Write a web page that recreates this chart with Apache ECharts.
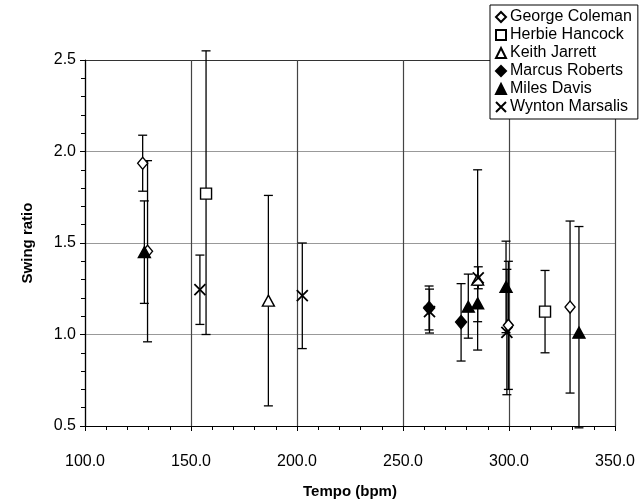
<!DOCTYPE html>
<html><head><meta charset="utf-8">
<script src="https://cdn.jsdelivr.net/npm/echarts@6/dist/echarts.min.js"></script>
<style>html,body{margin:0;padding:0;background:#fff}#c{width:644px;height:504px}</style>
</head><body><div id="c"></div>
<script>
// Data: tempo (bpm), swing ratio, error low, error high
const players = ["George Coleman","Herbie Hancock","Keith Jarrett","Marcus Roberts","Miles Davis","Wynton Marsalis"];

const colemanTempo = [127.2, 129.5, 299.7, 328.8];
const colemanRatio = [1.936, 1.455, 1.05, 1.15];
const colemanLow   = [1.783, 0.96, 0.70, 0.68];
const colemanHigh  = [2.089, 1.95, 1.40, 1.62];

const hancockTempo = [157.1, 317.0];
const hancockRatio = [1.77, 1.125];
const hancockLow   = [1.00, 0.90];
const hancockHigh  = [2.55, 1.35];

const jarrettTempo = [186.5, 285.2];
const jarrettRatio = [1.185, 1.30];
const jarrettLow   = [0.61, 0.915];
const jarrettHigh  = [1.76, 1.90];

const robertsTempo = [262.3, 277.4];
const robertsRatio = [1.145, 1.068];
const robertsLow   = [1.025, 0.855];
const robertsHigh  = [1.265, 1.278];

const davisTempo = [128.0, 280.8, 285.2, 298.6, 333.0];
const davisRatio = [1.45, 1.152, 1.17, 1.26, 1.01];
const davisLow   = [1.17, 0.98, 1.07, 1.01, 0.49];
const davisHigh  = [1.73, 1.33, 1.27, 1.51, 1.59];

const marsalisTempo = [154.2, 202.5, 262.5, 285.5, 299.0];
const marsalisRatio = [1.245, 1.212, 1.125, 1.31, 1.012];
const marsalisLow   = [1.055, 0.923, 1.008, 1.25, 0.671];
const marsalisHigh  = [1.434, 1.50, 1.248, 1.37, 1.356];

const xTicks = [100, 150, 200, 250, 300, 350];
const yTicks = [0.5, 1.0, 1.5, 2.0, 2.5];

const FONT = "'Liberation Sans', Arial, sans-serif";
const XPATH = 'path://M0,0L10,10M10,0L0,10';

const sets = [
  {name: players[0], t: colemanTempo, r: colemanRatio, lo: colemanLow, hi: colemanHigh, symbol: 'diamond', size: [10,12], fill: '#fff'},
  {name: players[1], t: hancockTempo, r: hancockRatio, lo: hancockLow, hi: hancockHigh, symbol: 'rect', size: 11, fill: '#fff'},
  {name: players[2], t: jarrettTempo, r: jarrettRatio, lo: jarrettLow, hi: jarrettHigh, symbol: 'triangle', size: [12,11], fill: '#fff'},
  {name: players[3], t: robertsTempo, r: robertsRatio, lo: robertsLow, hi: robertsHigh, symbol: 'diamond', size: [11,13], fill: '#000'},
  {name: players[4], t: davisTempo, r: davisRatio, lo: davisLow, hi: davisHigh, symbol: 'triangle', size: [12,11], fill: '#000'},
  {name: players[5], t: marsalisTempo, r: marsalisRatio, lo: marsalisLow, hi: marsalisHigh, symbol: XPATH, size: 11, fill: '#000'}
];

const series = [];
// error bars
const errData = [];
sets.forEach(s => s.t.forEach((t, i) => errData.push([t, s.lo[i], s.hi[i]])));
series.push({
  type: 'custom', name: 'err', clip: false, z: 1, silent: true,
  data: errData,
  encode: {x: 0, y: [1, 2]},
  renderItem: function (params, api) {
    const x = api.value(0);
    const a = api.coord([x, api.value(1)]);
    const b = api.coord([x, api.value(2)]);
    const w = 4.5;
    const st = {stroke: '#000', lineWidth: 1.3, fill: null};
    return {type: 'group', children: [
      {type: 'line', shape: {x1: a[0], y1: a[1], x2: b[0], y2: b[1]}, style: st},
      {type: 'line', shape: {x1: a[0]-w, y1: a[1], x2: a[0]+w, y2: a[1]}, style: st},
      {type: 'line', shape: {x1: b[0]-w, y1: b[1], x2: b[0]+w, y2: b[1]}, style: st}
    ]};
  }
});
sets.forEach(s => {
  series.push({
    type: 'scatter', name: s.name, symbol: s.symbol, symbolSize: s.size, z: 3,
    data: s.t.map((t, i) => [t, s.r[i]]),
    itemStyle: {color: s.fill, borderColor: '#000', borderWidth: s.symbol === XPATH ? 1.8 : 1.4, opacity: 1}
  });
});

const chart = echarts.init(document.getElementById('c'), null, {renderer: 'canvas'});
chart.setOption({
  animation: false,
  backgroundColor: '#fff',
  textStyle: {fontFamily: FONT},
  grid: {left: 85, right: 29, top: 60, bottom: 74, containLabel: false},
  legend: {
    orient: 'vertical', left: 490, top: 5, data: players,
    backgroundColor: '#fff', borderColor: '#000', borderWidth: 1,
    padding: [4, 6, 4, 5], itemGap: 2, itemWidth: 10, itemHeight: 10,
    textStyle: {fontFamily: FONT, fontSize: 16, color: '#000', lineHeight: 16, padding: [0, 0, 0, -1]}
  },
  xAxis: {
    type: 'value', min: xTicks[0], max: xTicks[xTicks.length-1], interval: 50,
    name: 'Tempo (bpm)', nameLocation: 'middle', nameGap: 58,
    nameTextStyle: {fontFamily: FONT, fontSize: 15, fontWeight: 'bold', color: '#000'},
    axisLine: {lineStyle: {color: '#000', width: 1.2}},
    axisTick: {show: true, length: 5, lineStyle: {color: '#000'}},
    minorTick: {show: true, splitNumber: 5, length: 4, lineStyle: {color: '#000'}},
    axisLabel: {fontFamily: FONT, fontSize: 16, color: '#000', margin: 28, formatter: v => v.toFixed(1)},
    splitLine: {show: true, lineStyle: {color: '#444', width: 1.2}}
  },
  yAxis: {
    type: 'value', min: yTicks[0], max: yTicks[yTicks.length-1], interval: 0.5,
    name: 'Swing ratio', nameLocation: 'middle', nameGap: 50, nameRotate: 90,
    nameTextStyle: {fontFamily: FONT, fontSize: 15, fontWeight: 'bold', color: '#000'},
    axisLine: {lineStyle: {color: '#000', width: 1.2}},
    axisTick: {show: true, length: 5, lineStyle: {color: '#000'}},
    minorTick: {show: true, splitNumber: 5, length: 4, lineStyle: {color: '#000'}},
    axisLabel: {fontFamily: FONT, fontSize: 16, color: '#000', margin: 9, formatter: v => v.toFixed(1)},
    splitLine: {show: true, lineStyle: {color: ['#999', '#999', '#999', '#999', '#333'], width: 1.1}}
  },
  series: series
});
</script></body></html>
